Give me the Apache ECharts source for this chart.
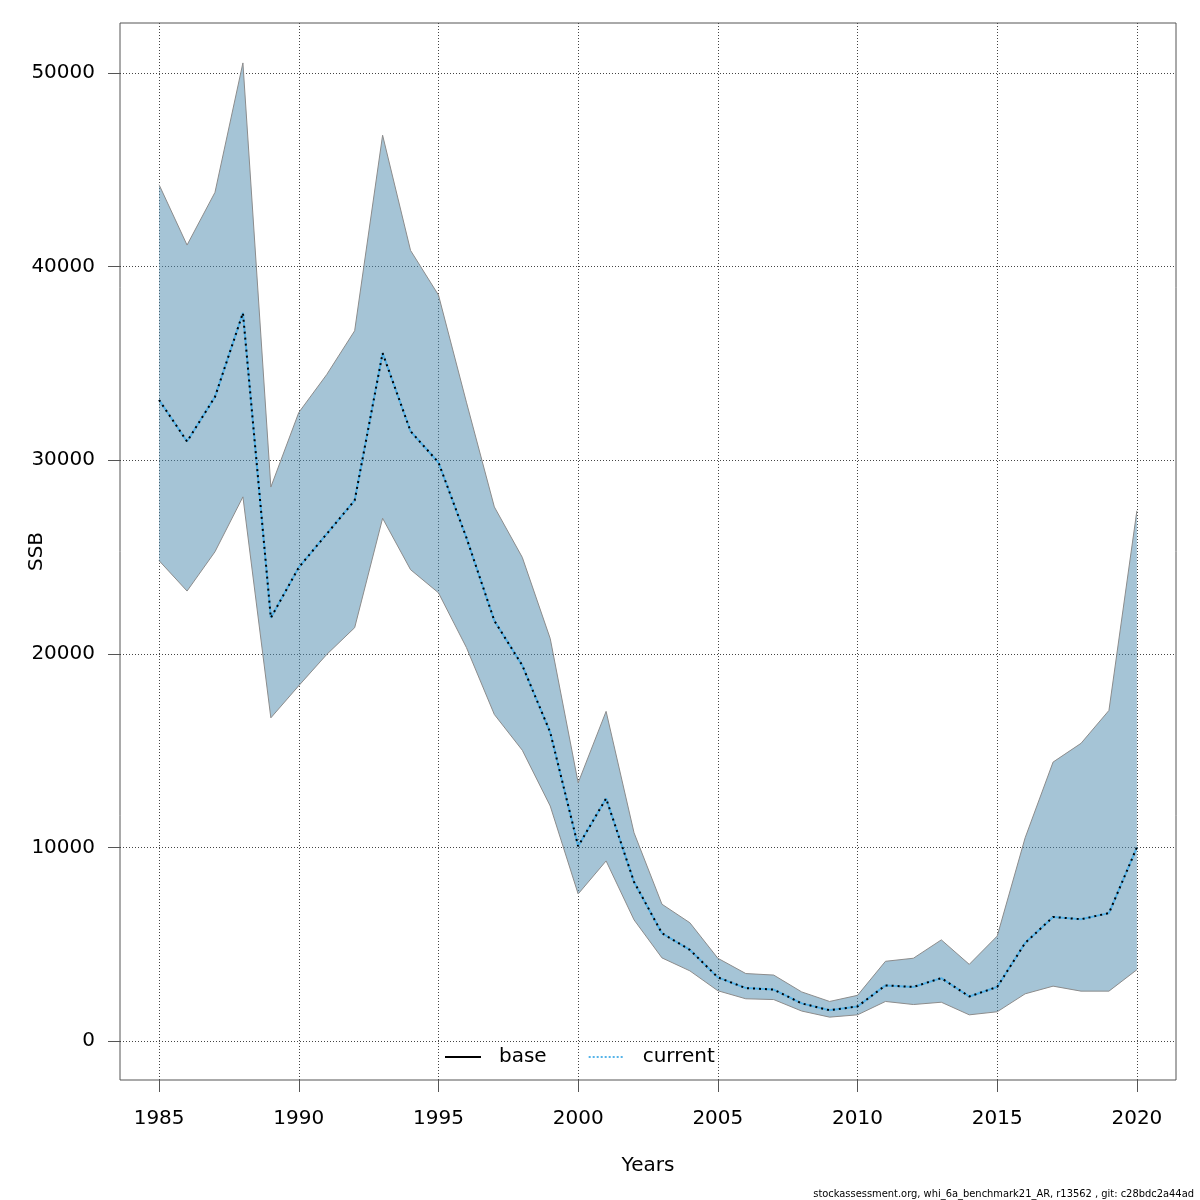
<!DOCTYPE html>
<html>
<head>
<meta charset="utf-8">
<script src="https://cdn.jsdelivr.net/npm/echarts@6/dist/echarts.min.js"></script>
<style>
  html, body { margin: 0; padding: 0; background: #fff; }
  #chart { width: 1200px; height: 1200px; }
</style>
</head>
<body>
<div id="chart"></div>
<script>
// years of the assessment
const years = [1985, 1986, 1987, 1988, 1989, 1990, 1991, 1992, 1993, 1994, 1995, 1996,
  1997, 1998, 1999, 2000, 2001, 2002, 2003, 2004, 2005, 2006, 2007, 2008,
  2009, 2010, 2011, 2012, 2013, 2014, 2015, 2016, 2017, 2018, 2019, 2020];

// SSB estimate (same for base and current)
const ssb = [33114, 30969, 33276, 37612, 21857, 24464, 26194, 27924, 35536, 31499, 29885, 26000,
  21707, 19400, 15940, 10058, 12526, 8212, 5559, 4700, 3280, 2727, 2648, 1936,
  1581, 1778, 2865, 2786, 3241, 2292, 2786, 5059, 6402, 6284, 6600, 10000];

// confidence band
const lower = [24810, 23241, 25271, 28108, 16690, 18351, 19965, 21349, 27001, 24348, 23149, 20323,
  16863, 15017, 12134, 7589, 9296, 6251, 4287, 3616, 2589, 2174, 2134, 1541,
  1225, 1344, 2035, 1877, 1996, 1344, 1502, 2430, 2826, 2569, 2569, 3675];
const upper = [44233, 41119, 43841, 50530, 28616, 32468, 34429, 36690, 46794, 40842, 38535, 33000,
  27589, 24983, 20784, 13333, 17024, 10750, 7059, 6100, 4268, 3478, 3399, 2529,
  2035, 2351, 4110, 4268, 5217, 3952, 5414, 10493, 14405, 15373, 17073, 27387];

// tick labels
const xTicks = [1985, 1990, 1995, 2000, 2005, 2010, 2015, 2020];
const yTicks = [0, 10000, 20000, 30000, 40000, 50000];

const font = 'DejaVu Sans';

const pairs = (vals) => years.map((y, i) => [y, vals[i]]);

// polygon of the band: upper forward, lower backward
function renderBand(params, api) {
  const pts = [];
  years.forEach((y, i) => pts.push(api.coord([y, upper[i]])));
  for (let i = years.length - 1; i >= 0; i--) pts.push(api.coord([years[i], lower[i]]));
  return {
    type: 'polygon',
    shape: { points: pts },
    style: { fill: 'rgba(75,137,173,0.5)', stroke: null }
  };
}

const chart = echarts.init(document.getElementById('chart'));

const option = {
  animation: false,
  backgroundColor: '#fff',
  textStyle: { fontFamily: font },
  grid: {
    left: 120, right: 24, top: 23, bottom: 120,
    outerBoundsMode: 'none', containLabel: false,
    show: true, borderColor: '#555', borderWidth: 1, backgroundColor: 'transparent'
  },
  xAxis: {
    type: 'value',
    min: 1983.6, max: 2021.4,
    name: 'Years', nameLocation: 'middle', nameGap: 76, nameMoveOverlap: false,
    nameTextStyle: { fontSize: 20, color: '#000', fontFamily: font },
    axisLine: { show: false, onZero: false },
    axisTick: { show: true, length: 12, lineStyle: { color: '#555' }, customValues: xTicks },
    axisLabel: { fontSize: 20, color: '#000', margin: 29, fontFamily: font,
      customValues: xTicks, formatter: (v) => String(v) },
    splitLine: { show: true, lineStyle: { color: '#444', type: [1, 2], width: 1 } }
  },
  yAxis: {
    type: 'value',
    min: -2023, max: 52593,
    name: 'SSB', nameLocation: 'middle', nameGap: 73, nameMoveOverlap: false,
    nameTextStyle: { fontSize: 20, color: '#000', fontFamily: font },
    axisLine: { show: false, onZero: false },
    axisTick: { show: true, length: 12, lineStyle: { color: '#555' }, customValues: yTicks },
    axisLabel: { fontSize: 20, color: '#000', margin: 25, fontFamily: font,
      customValues: yTicks, formatter: (v) => String(v) },
    splitLine: { show: true, lineStyle: { color: '#444', type: [1, 2], width: 1 } }
  },
  legend: {
    left: 444, top: 1047, padding: 0,
    itemWidth: 36, itemHeight: 14, itemGap: 41,
    itemStyle: { opacity: 0 },
    textStyle: { fontSize: 20, color: '#000', fontFamily: font, padding: [0, 0, 0, 13] },
    data: [
      { name: 'base', lineStyle: { color: '#000', type: 'solid', width: 2 } },
      { name: 'current', lineStyle: { color: '#56B4E9', type: [2, 2], width: 2 } }
    ]
  },
  series: [
    {
      name: 'band', type: 'custom', silent: true, z: 1,
      data: [[years[0], lower[0]]],
      renderItem: renderBand
    },
    {
      name: 'upper', type: 'line', data: pairs(upper),
      symbol: 'none', silent: true, z: 2,
      lineStyle: { color: '#8c8c8c', width: 1 }
    },
    {
      name: 'lower', type: 'line', data: pairs(lower),
      symbol: 'none', silent: true, z: 2,
      lineStyle: { color: '#8c8c8c', width: 1 }
    },
    {
      name: 'current', type: 'line', data: pairs(ssb),
      symbol: 'none', z: 3,
      lineStyle: { color: '#56B4E9', width: 2, type: 'solid' }
    },
    {
      name: 'base', type: 'line', data: pairs(ssb),
      symbol: 'none', z: 4,
      lineStyle: { color: '#000', width: 2, type: [2, 4] }
    }
  ],
  graphic: [
    {
      type: 'text', right: 6, bottom: 0,
      style: {
        text: 'stockassessment.org, whi_6a_benchmark21_AR, r13562 , git: c28bdc2a44ad',
        fontSize: 11, fontFamily: 'DejaVu Sans Condensed', fill: '#000'
      }
    }
  ]
};

chart.setOption(option);
</script>
</body>
</html>
